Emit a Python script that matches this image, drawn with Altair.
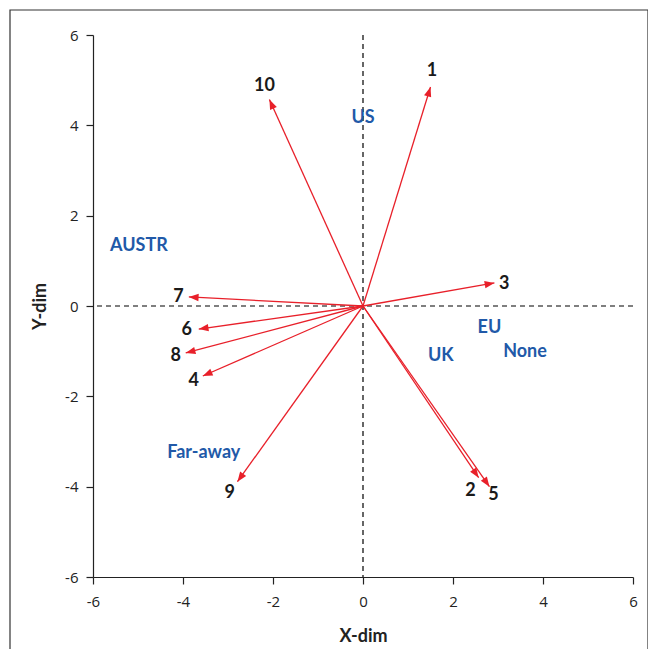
import math
import altair as alt
import pandas as pd

# Arrow (vector) data
ids = ["1", "2", "3", "4", "5", "6", "7", "8", "9", "10"]
vec_x = [1.50, 2.57, 2.92, -3.56, 2.81, -3.65, -3.87, -3.94, -2.79, -2.08]
vec_y = [4.85, -3.80, 0.51, -1.55, -4.00, -0.51, 0.20, -1.04, -3.89, 4.57]
lab_x = [1.53, 2.39, 3.14, -3.76, 2.90, -3.92, -4.10, -4.16, -2.96, -2.19]
lab_y = [5.20, -4.10, 0.49, -1.66, -4.19, -0.53, 0.20, -1.10, -4.15, 4.88]

# Category labels
cats = ["US", "AUSTR", "EU", "None", "UK", "Far-away"]
cat_x = [0.00, -4.98, 2.81, 3.60, 1.73, -3.54]
cat_y = [4.17, 1.32, -0.49, -1.02, -1.10, -3.25]

vec = pd.DataFrame({"id": ids, "x": vec_x, "y": vec_y, "lx": lab_x, "ly": lab_y})
vec["x0"] = 0.0
vec["y0"] = 0.0
vec["ang"] = [(math.degrees(math.atan2(a, b)) + 360) % 360 for a, b in zip(vec_x, vec_y)]
catdf = pd.DataFrame({"name": cats, "x": cat_x, "y": cat_y})

RED = "#e8202a"
BLUE = "#2159a8"

xs = alt.Scale(domain=[-6, 6], nice=False, zero=False)
ys = alt.Scale(domain=[-6, 6], nice=False, zero=False)
ticks = [-6, -4, -2, 0, 2, 4, 6]

xaxis = alt.Axis(values=ticks, title="X-dim", grid=False, tickSize=7, labelPadding=10,
                 titlePadding=18, labelExpr="toString(datum.value)")
yaxis = alt.Axis(values=ticks, title="Y-dim", grid=False, tickSize=7, labelPadding=8,
                 titlePadding=15, labelExpr="toString(datum.value)")

frame = alt.Chart(pd.DataFrame({"a": [0]})).mark_rect(
    fill=None, stroke="#333333", strokeWidth=1.2
).encode(x=alt.value(-83), x2=alt.value(555), y=alt.value(-25), y2=alt.value(640))

zero_v = alt.Chart(pd.DataFrame({"v": [0]})).mark_rule(
    color="black", strokeDash=[5, 4], strokeWidth=1.2
).encode(x=alt.X("v:Q", scale=xs, axis=xaxis))
zero_h = alt.Chart(pd.DataFrame({"v": [0]})).mark_rule(
    color="black", strokeDash=[5, 4], strokeWidth=1.2
).encode(y=alt.Y("v:Q", scale=ys, axis=yaxis))

base = alt.Chart(vec)
lines = base.mark_rule(color=RED, strokeWidth=1.3).encode(
    x=alt.X("x0:Q", scale=xs, axis=xaxis), y=alt.Y("y0:Q", scale=ys, axis=yaxis),
    x2="x:Q", y2="y:Q")
heads = base.mark_point(
    shape="M0,0 L-0.38,1 L0.38,1 Z", filled=True, color=RED, opacity=1, size=380
).encode(x=alt.X("x:Q", scale=xs), y=alt.Y("y:Q", scale=ys),
         angle=alt.Angle("ang:Q", scale=None))
nums = base.mark_text(font="Lato", fontWeight="bold", fontSize=18, color="#1a1a1a").encode(
    x=alt.X("lx:Q", scale=xs), y=alt.Y("ly:Q", scale=ys), text="id:N")
catlab = alt.Chart(catdf).mark_text(font="Lato", fontWeight="bold", fontSize=18, color=BLUE).encode(
    x=alt.X("x:Q", scale=xs), y=alt.Y("y:Q", scale=ys), text="name:N")

chart = alt.layer(frame, zero_v, zero_h, lines, heads, nums, catlab).properties(
    width=540, height=542,
    autosize=alt.AutoSizeParams(type="none"),
    padding={"left": 85, "top": 27, "right": 15, "bottom": 72},
).configure_view(stroke=None).configure_axis(
    domainColor="#222222", tickColor="#222222", domainWidth=1.2, tickWidth=1.2,
    labelFont="Open Sans", labelFontSize=15, labelColor="#222222",
    titleFont="Lato", titleFontSize=18, titleFontWeight="bold", titleColor="#222222",
).configure_axisX(labelFlush=False).configure_axisY(labelFlush=False)

chart.save("out.html", embed_options={"renderer": "svg", "actions": False})
